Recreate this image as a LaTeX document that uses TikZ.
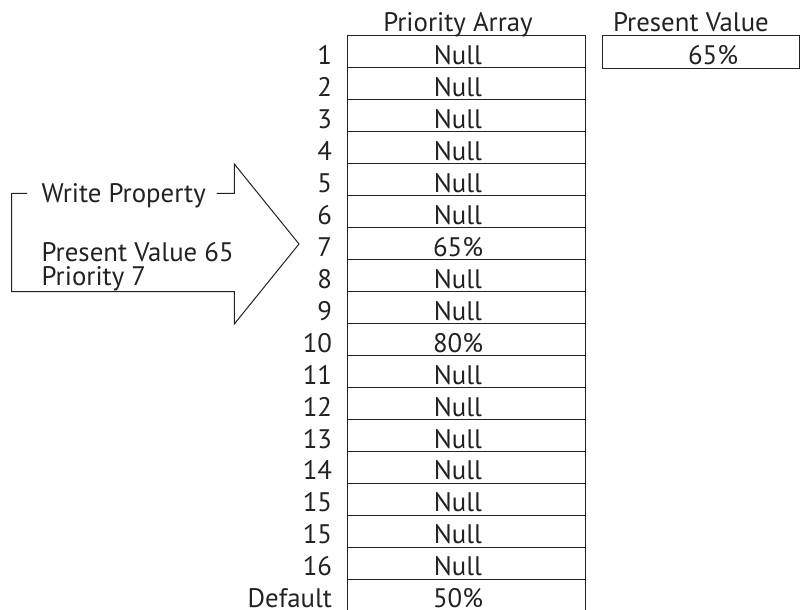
\documentclass[tikz,border=0pt]{standalone}
\usepackage{fontspec}
\setmainfont{PT Sans}
\definecolor{ink}{HTML}{222222}
\begin{document}
\begin{tikzpicture}[x=1pt,y=-1pt,line width=1pt,
  every node/.style={inner sep=0pt,outer sep=0pt,text=ink,font=\fontsize{26.8}{30}\selectfont},
  cell/.style={draw=ink,rectangle,minimum width=238pt,minimum height=31.96pt},
  val/.style={anchor=base},
  lab/.style={anchor=base east}]
\useasboundingbox (0,0) rectangle (800,610);
% headers
\node[val] (hpa) at (458,32) {Priority Array};
\node[val] (hpv) at (691,32) {Present Value};
% priority array rows
\foreach \lbl/\v [count=\k from 0] in {1/Null,2/Null,3/Null,4/Null,5/Null,6/Null,7/65\%,8/Null,9/Null,10/80\%,11/Null,12/Null,13/Null,14/Null,15/Null,15/Null,16/Null,Default/50\%}{
  \pgfmathsetmacro{\top}{36+31.96*\k}
  \node[cell] (c\k) at (466,\top+15.98) {};
  \node[val] (v\k) at (458,\top+28.5) {\v};
  \node[lab] (l\k) at (332,\top+28.5) {\lbl};
}
% present value box
\node[draw=ink,rectangle,minimum width=197pt,minimum height=32.3pt] (pv) at (701,52.15) {};
\node[val] (pvv) at (713,64.5) {65\%};
% write property arrow
\coordinate (a1) at (27,193.3);
\coordinate (a2) at (11.7,193.3);
\coordinate (a3) at (11.7,291.7);
\coordinate (a4) at (234.3,291.7);
\coordinate (a5) at (234.3,324);
\coordinate (a6) at (299,244);
\coordinate (a7) at (234.3,164);
\coordinate (a8) at (234.3,193.3);
\coordinate (a9) at (216.7,193.3);
\draw[ink,line join=miter] (a1) -- (a2) -- (a3) -- (a4) -- (a5) -- (a6) -- (a7) -- (a8) -- (a9);
\node[anchor=base west] (wp) at (41.7,202) {Write Property};
\node[anchor=base west,align=left,font=\fontsize{26.8}{24}\selectfont] (pv65) at (41.7,285) {Present Value 65\\Priority 7};
\end{tikzpicture}
\end{document}
